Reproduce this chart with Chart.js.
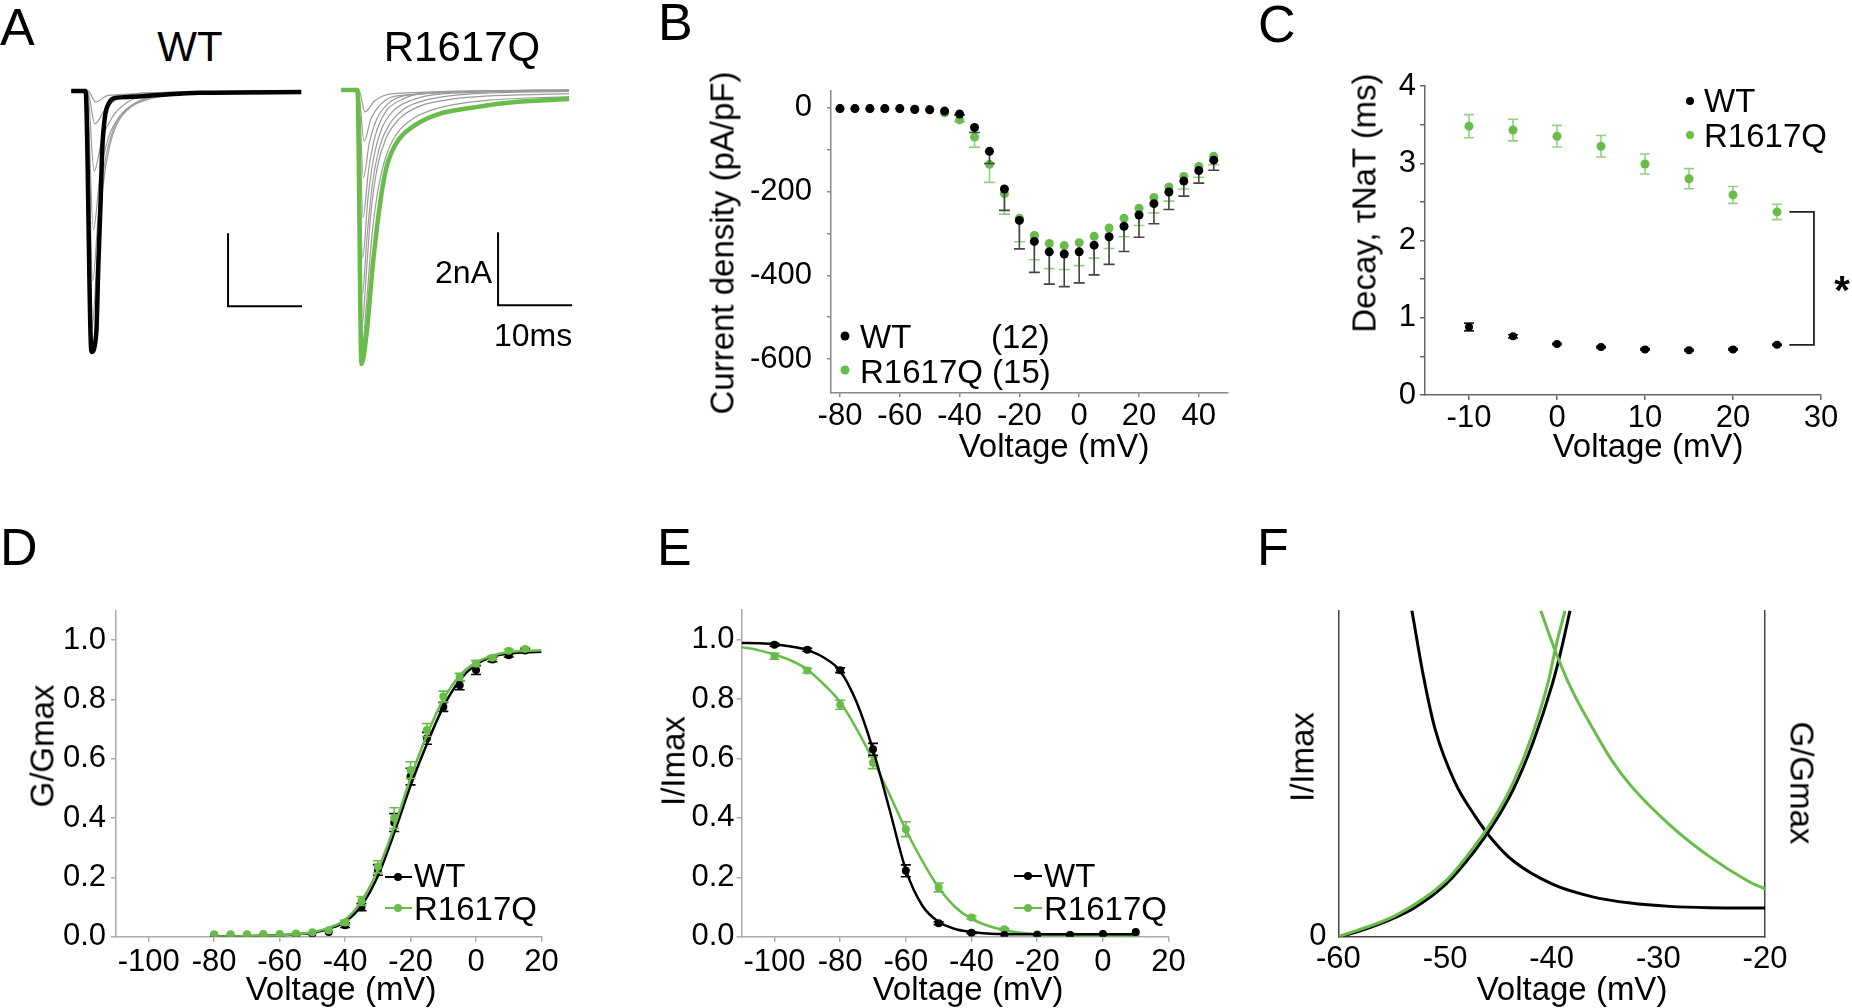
<!DOCTYPE html>
<html>
<head>
<meta charset="utf-8">
<script src="https://cdn.jsdelivr.net/npm/chart.js@4.4.0/dist/chart.umd.min.js"></script>
<style>
  body { margin: 0; width: 1852px; height: 1008px; background: #fff; position: relative; overflow: hidden;
         font-family: "Liberation Sans", Arial, sans-serif; color: #000; }
  canvas { position: absolute; }
  .t { position: absolute; white-space: nowrap; line-height: 1; }
  .c { transform: translate(-50%, -50%); }
  .l { transform: translateY(-50%); }
  .r { transform: translate(-100%, -50%); }
  .v { transform: translate(-50%, -50%) rotate(-90deg); }
  .v2 { transform: translate(-50%, -50%) rotate(90deg); }
  .p { font-size: 52px; }
  .dot { position: absolute; border-radius: 50%; transform: translate(-50%, -50%); }
  .seg { position: absolute; height: 0; border-top: 2.5px solid; transform: translateY(-50%); }
</style>
</head>
<body>
<canvas id="a1" width="260" height="310" style="left:55px;top:70px"></canvas>
<canvas id="a2" width="260" height="310" style="left:325px;top:69px"></canvas>
<canvas id="b" width="540" height="413" style="left:700px;top:57px"></canvas>
<canvas id="c" width="552" height="410" style="left:1300px;top:60px"></canvas>
<canvas id="d" width="600" height="428" style="left:0px;top:580px"></canvas>
<canvas id="e" width="620" height="428" style="left:600px;top:580px"></canvas>
<canvas id="f" width="612" height="428" style="left:1240px;top:580px"></canvas>

<!-- panel letters -->
<div class="t p" style="left:0px;top:1px">A</div>
<div class="t p" style="left:658px;top:-4px">B</div>
<div class="t p" style="left:1258px;top:-2px">C</div>
<div class="t p" style="left:0px;top:521px">D</div>
<div class="t p" style="left:657px;top:521px">E</div>
<div class="t p" style="left:1257px;top:521px">F</div>

<!-- A -->
<div class="t c" style="left:190px;top:47px;font-size:42px">WT</div>
<div class="t c" style="left:462px;top:47px;font-size:42px">R1617Q</div>
<div class="t r" style="left:492px;top:272px;font-size:32px">2nA</div>
<div class="t l" style="left:494px;top:335px;font-size:32px">10ms</div>

<!-- B -->
<div class="t v" style="left:722px;top:243px;font-size:33px">Current density (pA/pF)</div>
<div class="t c" style="left:1054px;top:445px;font-size:33px">Voltage (mV)</div>
<div class="dot" style="left:845px;top:336px;width:9px;height:9px;background:#000"></div>
<div class="dot" style="left:845px;top:370px;width:9px;height:9px;background:#67bc4a"></div>
<div class="t l" style="left:860px;top:336px;font-size:33px">WT</div>
<div class="t l" style="left:991px;top:336px;font-size:33px">(12)</div>
<div class="t l" style="left:860px;top:371px;font-size:33px">R1617Q (15)</div>

<!-- C -->
<div class="t v" style="left:1364px;top:203px;font-size:33px">Decay, τNaT (ms)</div>
<div class="t c" style="left:1648px;top:445px;font-size:33px">Voltage (mV)</div>
<div class="dot" style="left:1690px;top:101px;width:8px;height:8px;background:#000"></div>
<div class="dot" style="left:1690px;top:135px;width:8px;height:8px;background:#67bc4a"></div>
<div class="t l" style="left:1704px;top:100px;font-size:33px">WT</div>
<div class="t l" style="left:1704px;top:135px;font-size:33px">R1617Q</div>
<div class="t c" style="left:1842px;top:290px;font-size:40px;font-weight:bold">*</div>

<!-- D -->
<div class="t v" style="left:42px;top:746px;font-size:33px">G/Gmax</div>
<div class="t c" style="left:341px;top:988px;font-size:33px">Voltage (mV)</div>
<div class="seg" style="left:385px;top:877px;width:27px;border-color:#000"></div>
<div class="dot" style="left:398px;top:877px;width:8px;height:8px;background:#000"></div>
<div class="seg" style="left:385px;top:908px;width:27px;border-color:#67bc4a"></div>
<div class="dot" style="left:398px;top:908px;width:8px;height:8px;background:#67bc4a"></div>
<div class="t l" style="left:414px;top:875px;font-size:33px">WT</div>
<div class="t l" style="left:414px;top:908px;font-size:33px">R1617Q</div>

<!-- E -->
<div class="t v" style="left:673px;top:761px;font-size:33px">I/Imax</div>
<div class="t c" style="left:968px;top:988px;font-size:33px">Voltage (mV)</div>
<div class="seg" style="left:1014px;top:876px;width:28px;border-color:#000"></div>
<div class="dot" style="left:1028px;top:876px;width:8px;height:8px;background:#000"></div>
<div class="seg" style="left:1014px;top:908px;width:28px;border-color:#67bc4a"></div>
<div class="dot" style="left:1028px;top:908px;width:8px;height:8px;background:#67bc4a"></div>
<div class="t l" style="left:1044px;top:875px;font-size:33px">WT</div>
<div class="t l" style="left:1044px;top:908px;font-size:33px">R1617Q</div>

<!-- F -->
<div class="t v" style="left:1302px;top:757px;font-size:33px">I/Imax</div>
<div class="t v2" style="left:1802px;top:783px;font-size:33px">G/Gmax</div>
<div class="t c" style="left:1572px;top:988px;font-size:33px">Voltage (mV)</div>

<script>
// ---------- data ----------
// A: current traces, [time ms, current nA]
const wtTrace = [[0,0],[1.94,0],[2.74,-7.15],[3.39,-6.63],[3.66,-4.82],[3.98,-2.99],[4.19,-1.62],[4.56,-0.71],[5.11,-0.33],[5.92,-0.19],[8.06,-0.16],[11.8,-0.11],[17.3,-0.05],[31.1,-0.03]];
const wtGrayTraces = [
  [[0,0],[2.1,0],[2.8,-6.5],[3.5,-4.6],[4.3,-2.6],[5.2,-1.5],[6.2,-0.9],[8,-0.45],[11,-0.2],[16,-0.08],[31,-0.02]],
  [[0,0],[2.1,0],[2.9,-5.2],[3.7,-3.3],[4.6,-1.9],[5.8,-1.0],[7.5,-0.5],[10,-0.22],[15,-0.08],[31,0]],
  [[0,0],[2.1,0],[3.0,-3.8],[3.9,-2.3],[5,-1.3],[6.5,-0.7],[8.5,-0.35],[12,-0.12],[31,0]],
  [[0,0],[2.2,0],[3.1,-2.2],[4.2,-1.3],[5.6,-0.7],[7.5,-0.32],[10,-0.12],[31,0]],
  [[0,0],[2.2,0],[3.2,-0.9],[4.6,-0.5],[6.5,-0.2],[10,-0.05],[31,0]],
  [[0,0],[2.3,0],[3.3,-0.3],[5,-0.12],[31,0]]
];
const mutTrace = [[0,0],[2.2,0],[2.74,-7.51],[3.44,-6.66],[4.24,-4.85],[5.32,-3.01],[6.13,-2.11],[7.47,-1.45],[9.63,-1.01],[12.85,-0.68],[18.2,-0.47],[23.5,-0.33],[30.8,-0.25]];
const mutGrayTraces = [
  [[0,0],[2.2,0],[2.75,-7.2],[3.4,-5.9],[4.1,-4.1],[5,-2.7],[6,-1.85],[7.5,-1.2],[10,-0.75],[14,-0.45],[20,-0.28],[30.8,-0.18]],
  [[0,0],[2.2,0],[2.8,-6.5],[3.4,-5.0],[4.0,-3.4],[4.9,-2.1],[6,-1.35],[7.8,-0.8],[10.5,-0.45],[15,-0.25],[30.8,-0.1]],
  [[0,0],[2.2,0],[2.85,-5.6],[3.5,-4.0],[4.2,-2.6],[5.2,-1.55],[6.5,-0.95],[8.5,-0.52],[12,-0.25],[18,-0.1],[30.8,-0.04]],
  [[0,0],[2.2,0],[2.9,-4.6],[3.6,-3.0],[4.4,-1.85],[5.5,-1.05],[7,-0.58],[9.5,-0.28],[14,-0.1],[30.8,-0.02]],
  [[0,0],[2.3,0],[2.95,-3.5],[3.7,-2.2],[4.6,-1.25],[6,-0.6],[8,-0.28],[11,-0.1],[30.8,0]],
  [[0,0],[2.3,0],[3.0,-2.4],[3.8,-1.45],[4.8,-0.8],[6.3,-0.38],[9,-0.14],[30.8,0]],
  [[0,0],[2.3,0],[3.1,-1.4],[4,-0.8],[5.3,-0.4],[7.5,-0.16],[30.8,0]],
  [[0,0],[2.4,0],[3.2,-0.6],[4.5,-0.3],[7,-0.1],[30.8,0]]
];
// scale bar: 10 ms by 2 nA
const scaleBar = [[21.2,-3.9],[21.2,-5.9],[31.2,-5.9]];

// B: current density
const voltsB = [-80,-75,-70,-65,-60,-55,-50,-45,-40,-35,-30,-25,-20,-15,-10,-5,0,5,10,15,20,25,30,35,40,45];
const wtDensity = [-2,-2,-2,-2,-2,-4,-5,-8,-15,-47,-104,-194,-269,-319,-344,-349,-344,-328,-308,-283,-256,-229,-201,-175,-150,-125];
const wtDensityErr = [0,0,0,0,0,0,0,0,2,12,29,51,68,74,77,78,74,71,66,60,53,48,42,36,30,24];
const mutDensity = [-2,-2,-2,-2,-2,-3,-4,-12,-29,-70,-135,-205,-264,-305,-324,-329,-322,-307,-287,-264,-240,-214,-189,-164,-140,-116];
const mutDensityErr = [0,0,0,0,0,0,0,0,4,24,43,49,56,58,60,57,55,52,49,44,41,37,34,30,26,20];
const ticksBx = [-80,-60,-40,-20,0,20,40];
const ticksBy = [-600,-500,-400,-300,-200,-100,0];

// C: decay time constant
const voltsC = [-10,-5,0,5,10,15,20,25];
const wtTau = [0.88,0.76,0.66,0.62,0.59,0.58,0.59,0.65];
const wtTauErr = [0.05,0.02,0.01,0.01,0.01,0.01,0.01,0.01];
const mutTau = [3.48,3.43,3.35,3.22,2.99,2.80,2.59,2.37];
const mutTauErr = [0.15,0.14,0.14,0.14,0.13,0.13,0.11,0.10];
const bracketC = [[26.4,2.37],[29.2,2.37],[29.2,0.65],[26.4,0.65]];
const ticksCx = [-10,0,10,20,30];
const ticksCy = [0,0.5,1,1.5,2,2.5,3,3.5,4];

// D: activation
const voltsD = [-80,-75,-70,-65,-60,-55,-50,-45,-40,-35,-30,-25,-20,-15,-10,-5,0,5,10,15];
const wtG = [0.004,0.004,0.004,0.005,0.005,0.007,0.01,0.016,0.039,0.10,0.225,0.385,0.54,0.669,0.775,0.848,0.899,0.935,0.949,0.965];
const wtGErr = [0,0,0,0,0,0,0,0,0.008,0.012,0.018,0.03,0.028,0.02,0.015,0.015,0.015,0.008,0.006,0.005];
const mutG = [0.008,0.008,0.008,0.009,0.009,0.011,0.015,0.022,0.048,0.12,0.236,0.40,0.562,0.697,0.81,0.876,0.921,0.941,0.964,0.97];
const mutGErr = [0,0,0,0,0,0,0,0,0.008,0.015,0.02,0.035,0.028,0.022,0.018,0.012,0.01,0.006,0.005,0.005];
const fitVoltsD = [-80,-75,-70,-65,-60,-55,-50,-45,-40,-35,-30,-25,-20,-15,-10,-5,0,5,10,15,20];
const wtGFit = [0.001,0.001,0.002,0.003,0.005,0.008,0.013,0.027,0.05,0.105,0.205,0.35,0.51,0.65,0.775,0.865,0.918,0.944,0.955,0.959,0.961];
const mutGFit = [0.001,0.001,0.002,0.003,0.005,0.009,0.015,0.03,0.057,0.12,0.225,0.37,0.535,0.68,0.80,0.88,0.925,0.948,0.96,0.964,0.966];

// E: steady-state inactivation
const voltsE = [-100,-90,-80,-70,-60,-50,-40,-30,-20,-10,0,10];
const wtI = [0.983,0.966,0.897,0.631,0.222,0.045,0.013,0.006,0.006,0.006,0.009,0.016];
const wtIErr = [0.005,0.005,0.008,0.02,0.02,0.005,0.003,0,0,0,0,0];
const mutI = [0.944,0.896,0.781,0.586,0.362,0.166,0.065,0.025,0.008,0.006,0.008,0.011];
const mutIErr = [0.01,0.008,0.015,0.02,0.025,0.015,0.005,0.003,0,0,0,0];
const fitVoltsE = [-110,-105,-100,-95,-90,-85,-80,-75,-70,-65,-60,-55,-50,-45,-40,-35,-30,-25,-20,-15,-10,-5,0,5,10];
const wtIFit = [0.989,0.988,0.985,0.977,0.965,0.94,0.895,0.79,0.63,0.43,0.225,0.105,0.05,0.026,0.016,0.011,0.009,0.008,0.008,0.008,0.008,0.008,0.008,0.008,0.008];
const mutIFit = [0.975,0.965,0.95,0.93,0.9,0.85,0.79,0.70,0.595,0.48,0.36,0.255,0.165,0.10,0.06,0.037,0.022,0.013,0.008,0.005,0.003,0.002,0.002,0.002,0.002];
const ticksDEx = [-100,-80,-60,-40,-20,0,20];
const ticksDEy = [0,0.2,0.4,0.6,0.8,1.0];

// F: window current overlap (normalised)
const wtActF = [[-60,0],[-58.24,0.015],[-54.58,0.06],[-52.75,0.091],[-49.93,0.161],[-47.25,0.262],[-45.42,0.347],[-43.59,0.453],[-41.76,0.595],[-39.93,0.776],[-39.2,0.867],[-38.28,1.0]];
const mutActF = [[-60,0],[-54.58,0.066],[-49.93,0.171],[-47.25,0.277],[-45.42,0.363],[-43.59,0.474],[-41.76,0.625],[-40.29,0.786],[-39.56,0.897],[-38.75,1.0]];
const wtInactF = [[-53.11,1.0],[-52.01,0.796],[-50.92,0.635],[-49.08,0.474],[-47.25,0.373],[-45.42,0.292],[-43.59,0.232],[-39.93,0.161],[-36.26,0.123],[-32.6,0.103],[-28.94,0.093],[-25.27,0.089],[-20,0.088]];
const mutInactF = [[-41.03,1.0],[-39.56,0.867],[-38.1,0.756],[-36.26,0.645],[-34.43,0.544],[-32.6,0.464],[-28.94,0.343],[-25.27,0.247],[-21.61,0.171],[-20,0.146]];
const ticksFx = [-60,-50,-40,-30,-20];

// ---------- helpers ----------
const GREEN = '#67bc4a';
const GREEN_ERR = '#93d182';
Chart.defaults.font.family = '"Liberation Sans", Arial, sans-serif';
Chart.defaults.color = '#000';

const pts = (xs, ys) => xs.map((x, i) => ({ x: x, y: ys[i] }));
const pairs = arr => arr.map(p => ({ x: p[0], y: p[1] }));

// error bars drawn under each dataset's points
const errorBarPlugin = {
  id: 'errorBars',
  beforeDatasetDraw(chart, args) {
    const ds = chart.data.datasets[args.index];
    if (!ds.errors) return;
    const ctx = chart.ctx;
    const x = chart.scales.x, y = chart.scales.y;
    const cap = ds.capHalf || 5;
    ctx.save();
    ctx.strokeStyle = ds.errorColor;
    ctx.lineWidth = 1.6;
    ds.data.forEach((p, i) => {
      const e = ds.errors[i];
      if (!e) return;
      const px = x.getPixelForValue(p.x);
      const lo = y.getPixelForValue(p.y - e);
      const hi = ds.errorDown ? y.getPixelForValue(p.y) : y.getPixelForValue(p.y + e);
      ctx.beginPath();
      ctx.moveTo(px, hi); ctx.lineTo(px, lo);
      ctx.moveTo(px - cap, lo); ctx.lineTo(px + cap, lo);
      if (!ds.errorDown) { ctx.moveTo(px - cap, hi); ctx.lineTo(px + cap, hi); }
      ctx.stroke();
    });
    ctx.restore();
  }
};

function axis(o) {
  return {
    type: 'linear',
    position: o.position,
    min: o.min, max: o.max,
    afterBuildTicks: s => { s.ticks = o.ticks.map(v => ({ value: v })); },
    afterFit: s => { if (s.isHorizontal()) s.height = o.size; else s.width = o.size; },
    ticks: { display: o.label !== undefined, callback: o.label, font: { size: 31 }, color: '#000',
             padding: o.pad || 0, maxRotation: 0, autoSkip: false },
    grid: { display: true, drawOnChartArea: false, drawTicks: o.tick > 0, tickLength: o.tick || 0,
            color: o.color, lineWidth: 1.5 },
    border: { display: true, color: o.color, width: 1.5 }
  };
}

function options(pad, scales) {
  return {
    responsive: false, animation: false, events: [],
    layout: { padding: pad },
    plugins: { legend: { display: false }, tooltip: { enabled: false } },
    scales: scales
  };
}

function lineSet(data, color, width, extra) {
  return Object.assign({ data: pairs(data), showLine: true, borderColor: color, borderWidth: width,
                         pointRadius: 0, cubicInterpolationMode: 'monotone' }, extra || {});
}

// ---------- A ----------
function traceChart(id, main, color, grays) {
  const sets = [lineSet(main, color, 4.5, { order: 0 }), lineSet(scaleBar, '#000', 2, { order: 0, cubicInterpolationMode: 'default' })];
  grays.forEach(g => sets.push(lineSet(g, '#9a9a9a', 1.2, { order: 1 })));
  new Chart(document.getElementById(id), {
    type: 'scatter',
    data: { datasets: sets },
    options: options(0, {
      x: { type: 'linear', display: false, min: -2.19, max: 32.95 },
      y: { type: 'linear', display: false, min: -7.92, max: 0.575 }
    })
  });
}
traceChart('a1', wtTrace, '#000', wtGrayTraces);
traceChart('a2', mutTrace, GREEN, mutGrayTraces);

// ---------- B ----------
new Chart(document.getElementById('b'), {
  type: 'scatter',
  data: { datasets: [
    { data: pts(voltsB, wtDensity), errors: wtDensityErr, errorDown: true, errorColor: '#444', capHalf: 5.5,
      backgroundColor: '#000', borderWidth: 0, pointRadius: 4.5, order: 1 },
    { data: pts(voltsB, mutDensity), errors: mutDensityErr, errorDown: true, errorColor: GREEN_ERR, capHalf: 5.5,
      backgroundColor: GREEN, borderWidth: 0, pointRadius: 4.5, order: 2 }
  ]},
  options: options({ top: 26, right: 12.5, left: 0, bottom: 0 }, {
    x: axis({ min: -83, max: 49.6, ticks: ticksBx, label: v => String(v), size: 77, tick: 4, pad: 1, color: '#888' }),
    y: axis({ min: -681, max: 41, ticks: ticksBy, label: v => (v % 200 === 0 ? String(v) : ''), size: 131, tick: 4, pad: 15, color: '#888' })
  }),
  plugins: [errorBarPlugin]
});

// ---------- C ----------
new Chart(document.getElementById('c'), {
  type: 'scatter',
  data: { datasets: [
    { data: pts(voltsC, wtTau), errors: wtTauErr, errorColor: '#222', capHalf: 5,
      backgroundColor: '#000', borderWidth: 0, pointRadius: 4, order: 1 },
    { data: pts(voltsC, mutTau), errors: mutTauErr, errorColor: GREEN_ERR, capHalf: 5,
      backgroundColor: GREEN, borderWidth: 0, pointRadius: 4.5, order: 2 },
    lineSet(bracketC, '#222', 1.8, { cubicInterpolationMode: 'default', order: 0 })
  ]},
  options: options({ top: 26, right: 31, left: 0, bottom: 0 }, {
    x: axis({ min: -15, max: 30, ticks: ticksCx, label: v => String(v), size: 75, tick: 5, pad: 0, color: '#666' }),
    y: axis({ min: 0, max: 4, ticks: ticksCy, label: v => (Number.isInteger(v) ? String(v) : ''), size: 125, tick: 5, pad: 4, color: '#666' })
  }),
  plugins: [errorBarPlugin]
});

// ---------- D ----------
new Chart(document.getElementById('d'), {
  type: 'scatter',
  data: { datasets: [
    lineSet(fitVoltsD.map((v, i) => [v, mutGFit[i]]), GREEN, 2.5, { order: 0 }),
    lineSet(fitVoltsD.map((v, i) => [v, wtGFit[i]]), '#000', 2.5, { order: 2 }),
    { data: pts(voltsD, mutG), errors: mutGErr, errorColor: GREEN, capHalf: 5,
      backgroundColor: GREEN, borderWidth: 0, pointRadius: 4, order: 1 },
    { data: pts(voltsD, wtG), errors: wtGErr, errorColor: '#000', capHalf: 5,
      backgroundColor: '#000', borderWidth: 0, pointRadius: 4, order: 3 }
  ]},
  options: options({ top: 30.5, right: 58.5, left: 0, bottom: 0 }, {
    x: axis({ min: -110, max: 20, ticks: ticksDEx, label: v => String(v), size: 71.3, tick: 5, pad: 2, color: '#aaa' }),
    y: axis({ min: 0, max: 1.1, ticks: ticksDEy, label: v => v.toFixed(1), size: 116, tick: 5, pad: 5, color: '#aaa' })
  }),
  plugins: [errorBarPlugin]
});

// ---------- E ----------
new Chart(document.getElementById('e'), {
  type: 'scatter',
  data: { datasets: [
    lineSet(fitVoltsE.map((v, i) => [v, wtIFit[i]]), '#000', 2.5, { order: 0 }),
    lineSet(fitVoltsE.map((v, i) => [v, mutIFit[i]]), GREEN, 2.5, { order: 2 }),
    { data: pts(voltsE, wtI), errors: wtIErr, errorColor: '#000', capHalf: 5,
      backgroundColor: '#000', borderWidth: 0, pointRadius: 4, order: 1 },
    { data: pts(voltsE, mutI), errors: mutIErr, errorColor: GREEN, capHalf: 5,
      backgroundColor: GREEN, borderWidth: 0, pointRadius: 4, order: 3 }
  ]},
  options: options({ top: 30, right: 51.4, left: 0, bottom: 0 }, {
    x: axis({ min: -110, max: 20, ticks: ticksDEx, label: v => String(v), size: 71.3, tick: 5, pad: 2, color: '#aaa' }),
    y: axis({ min: 0, max: 1.1, ticks: ticksDEy, label: v => v.toFixed(1), size: 141.6, tick: 5, pad: 2, color: '#aaa' })
  }),
  plugins: [errorBarPlugin]
});

// ---------- F ----------
new Chart(document.getElementById('f'), {
  type: 'scatter',
  data: { datasets: [
    lineSet(wtActF, '#000', 3, { yAxisID: 'y2', order: 1 }),
    lineSet(mutActF, GREEN, 3, { yAxisID: 'y2', order: 0 }),
    lineSet(wtInactF, '#000', 3, { order: 1 }),
    lineSet(mutInactF, GREEN, 3, { order: 0 })
  ]},
  options: options({ top: 26, right: 0, left: 0, bottom: 0 }, {
    x: axis({ min: -60, max: -20, ticks: ticksFx, label: v => String(v), size: 71.3, tick: 0, pad: 4, color: '#444' }),
    y: axis({ min: 0, max: 1, ticks: [0], label: v => String(v), size: 98.4, tick: 0, pad: 12, color: '#444' }),
    y2: axis({ position: 'right', min: 0, max: 1, ticks: [], size: 87, tick: 0, color: '#444' })
  })
});
</script>
</body>
</html>
